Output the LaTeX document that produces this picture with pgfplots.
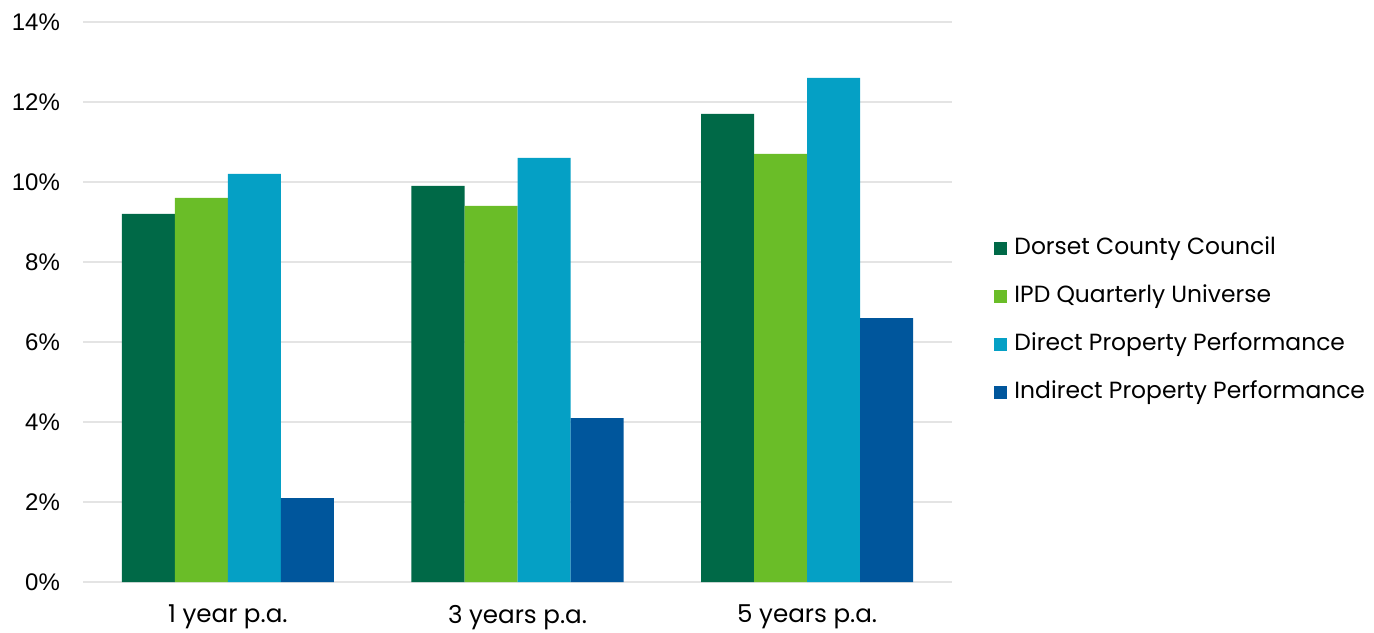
\documentclass[border=0pt]{standalone}
\usepackage{pgfplots}
\pgfplotsset{compat=1.18}
\usepackage{fontspec}
\setmainfont{Poppins}
\newfontfamily\tickfont{Liberation Sans}
\definecolor{cDorset}{HTML}{006947}
\definecolor{cIPD}{HTML}{6ABD28}
\definecolor{cDirect}{HTML}{05A0C5}
\definecolor{cIndirect}{HTML}{00569C}
\definecolor{cGrid}{HTML}{E4E4E4}
\begin{document}
\begin{tikzpicture}
\useasboundingbox (-41.5pt,-25pt) rectangle (645.5pt,291pt);
\begin{axis}[
  at={(0,0)}, anchor=south west,
  scale only axis, width=434.5pt, height=280pt,
  xmin=-0.5, xmax=2.5, ymin=0, ymax=14,
  ytick={0,2,...,14},
  yticklabel={\pgfmathprintnumber{\tick}\%},
  yticklabel style={font=\tickfont\fontsize{12}{14}\selectfont, xshift=-8pt},
  /pgf/number format/assume math mode=true,
  xtick={0,1,2}, xticklabels={1 year p.a., 3 years p.a., 5 years p.a.},
  xticklabel style={font=\fontsize{12.3}{14}\selectfont, yshift=-8pt},
  major tick length=0pt,
  axis line style={draw=none},
  ymajorgrids, grid style={cGrid, line width=1pt},
  ybar=0pt, bar width=26.5pt,
  legend style={draw=none, fill=none, at={(1.0415,0.625)}, anchor=north west,
    column sep=3.5pt, row sep=12pt,
    nodes={inner sep=0pt, text height=9pt, text depth=3pt, font=\fontsize{11.7}{14}\selectfont}},
  legend cell align=left,
  legend image code/.code={\fill[#1] (0pt,-3.25pt) rectangle (6.5pt,3.25pt);},
]
\addplot[fill=cDorset, draw=none] coordinates {(0,9.2) (1,9.9) (2,11.7)};
\addplot[fill=cIPD, draw=none] coordinates {(0,9.6) (1,9.4) (2,10.7)};
\addplot[fill=cDirect, draw=none] coordinates {(0,10.2) (1,10.6) (2,12.6)};
\addplot[fill=cIndirect, draw=none] coordinates {(0,2.1) (1,4.1) (2,6.6)};
\legend{Dorset County Council, IPD Quarterly Universe, Direct Property Performance, Indirect Property Performance}
\end{axis}
\end{tikzpicture}
\end{document}
